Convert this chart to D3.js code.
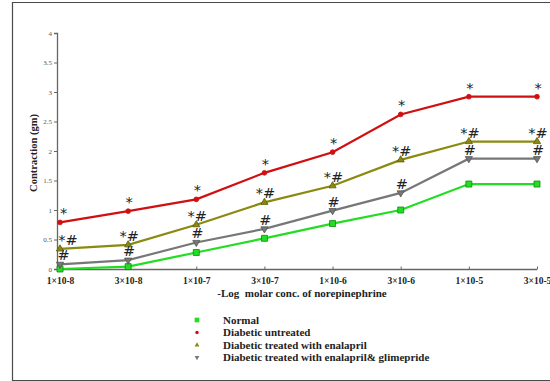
<!DOCTYPE html>
<html>
<head>
<meta charset="utf-8">
<script src="https://cdn.jsdelivr.net/npm/d3@7"></script>
<style>
  html, body { margin: 0; padding: 0; background: #fff; }
  svg { display: block; }
  text { white-space: pre; }
</style>
</head>
<body>
<svg id="chart" width="550" height="381"></svg>
<script>
// Concentration steps of norepinephrine
const concentrations = ["1×10-8", "3×10-8", "1×10-7", "3×10-7", "1×10-6", "3×10-6", "1×10-5", "3×10-5"];
const yTicks = [0, 0.5, 1, 1.5, 2, 2.5, 3, 3.5, 4];

// Contraction (gm) per group
const normal     = [0.00, 0.04, 0.28, 0.52, 0.77, 1.00, 1.44, 1.44];
const diabetic   = [0.79, 0.98, 1.18, 1.63, 1.98, 2.62, 2.92, 2.92];
const enalapril  = [0.34, 0.41, 0.75, 1.13, 1.41, 1.85, 2.16, 2.16];
const enalGlim   = [0.08, 0.15, 0.45, 0.68, 0.99, 1.29, 1.87, 1.87];

// Significance marks per point
const diabeticMarks  = ["*", "*", "*", "*", "*", "*", "*", "*"];
const enalaprilMarks = ["*#", "*#", "*#", "*#", "*#", "*#", "*#", "*#"];
const enalGlimMarks  = ["#", "#", "#", "#", "#", "#", "#", "#"];

const legendLabels = ["Normal", "Diabetic untreated", "Diabetic treated with enalapril", "Diabetic treated with enalapril& glimepride"];

const svg = d3.select("#chart");

// outer frame
svg.append("path")
  .attr("d", "M560,2.5 H12.5 V380.5 H560")
  .attr("fill", "none").attr("stroke", "#4a4a4a").attr("stroke-width", 1.2);

const axisX = 57, yTop = 33, yBottom = 269;
const x = d3.scalePoint().domain(concentrations).range([60, 537]);
const y = d3.scaleLinear().domain([0, 4]).range([yBottom, yTop]);

// y axis
const yAxis = svg.append("g").attr("transform", `translate(${axisX},0)`)
  .call(d3.axisLeft(y).tickValues(yTicks).tickSize(3).tickFormat(d3.format("")));
yAxis.select(".domain").attr("stroke", "#666").attr("stroke-width", 1.3);
yAxis.selectAll(".tick line").attr("stroke", "#666");
yAxis.selectAll(".tick text").attr("font-family", "Liberation Serif, serif").attr("font-size", 7).attr("fill", "#555").attr("x", -5);

// x axis
const xAxis = svg.append("g").attr("transform", `translate(0,${yBottom + 0.5})`)
  .call(d3.axisBottom(x).tickSize(-3).tickSizeOuter(0).tickPadding(8));
xAxis.select(".domain").attr("d", `M${axisX},0H537`).attr("stroke", "#666").attr("stroke-width", 1.3);
xAxis.selectAll(".tick line").attr("stroke", "#666");
xAxis.selectAll(".tick text").attr("font-family", "Liberation Serif, serif").attr("font-size", 9.5)
  .attr("font-weight", "bold").attr("fill", "#222");

// axis titles
svg.append("text").attr("x", 302).attr("y", 297).attr("text-anchor", "middle")
  .attr("font-family", "Liberation Serif, serif").attr("font-size", 11).attr("font-weight", "bold").attr("fill", "#222")
  .text("-Log  molar conc. of norepinephrine");
svg.append("text").attr("transform", "translate(37,153) rotate(-90)").attr("text-anchor", "middle")
  .attr("font-family", "Liberation Serif, serif").attr("font-size", 10.5).attr("font-weight", "bold").attr("fill", "#222")
  .text("Contraction (gm)");

const series = [
  { values: normal,    color: "#22dd22", stroke: "#118811", symbol: d3.symbolSquare,   size: 36, marks: null },
  { values: diabetic,  color: "#d01010", stroke: "#d01010", symbol: d3.symbolCircle,   size: 18, marks: diabeticMarks },
  { values: enalapril, color: "#8a8a10", stroke: "#5a5a00", symbol: d3.symbolTriangle, size: 22, marks: enalaprilMarks },
  { values: enalGlim,  color: "#777777", stroke: "#555555", symbol: d3.symbolTriangle, size: 22, marks: enalGlimMarks, down: true }
];

const line = d3.line().x((d, i) => x(concentrations[i])).y(d => y(d));

series.forEach(s => {
  svg.append("path").datum(s.values).attr("d", line)
    .attr("fill", "none").attr("stroke", s.color).attr("stroke-width", 2.2);
});

series.forEach(s => {
  svg.append("g").selectAll("path").data(s.values).join("path")
    .attr("d", d3.symbol().type(s.symbol).size(s.size))
    .attr("transform", (d, i) => `translate(${x(concentrations[i])},${y(d)})${s.down ? " rotate(180)" : ""}`)
    .attr("fill", s.color).attr("stroke", s.stroke).attr("stroke-width", 0.8);
});

// significance marks above points, centred on the point but kept right of the y axis
series.forEach(s => {
  if (!s.marks) return;
  svg.append("g").selectAll("text").data(s.values).join("text")
    .attr("x", (d, i) => x(concentrations[i]) + (i === 0 ? s.marks[i].length * 4.5 - 1 : 1))
    .attr("y", d => y(d) - 4)
    .attr("text-anchor", "middle")
    .attr("font-family", "DejaVu Sans, sans-serif").attr("font-size", 14.5).attr("fill", "#222")
    .text((d, i) => s.marks[i]);
});

// legend
const legend = svg.append("g");
legendLabels.forEach((lab, i) => {
  const s = series[i];
  const ly = 320 + i * 12.5;
  legend.append("path")
    .attr("d", d3.symbol().type(s.symbol).size(i === 0 ? 22 : 10)())
    .attr("transform", `translate(197,${ly})${s.down ? " rotate(180)" : ""}`)
    .attr("fill", s.color).attr("stroke", "none");
  legend.append("text").attr("x", 223).attr("y", ly + 3.5)
    .attr("font-family", "Liberation Serif, serif").attr("font-size", 11).attr("font-weight", "bold").attr("fill", "#222")
    .text(lab);
});
</script>
</body>
</html>
